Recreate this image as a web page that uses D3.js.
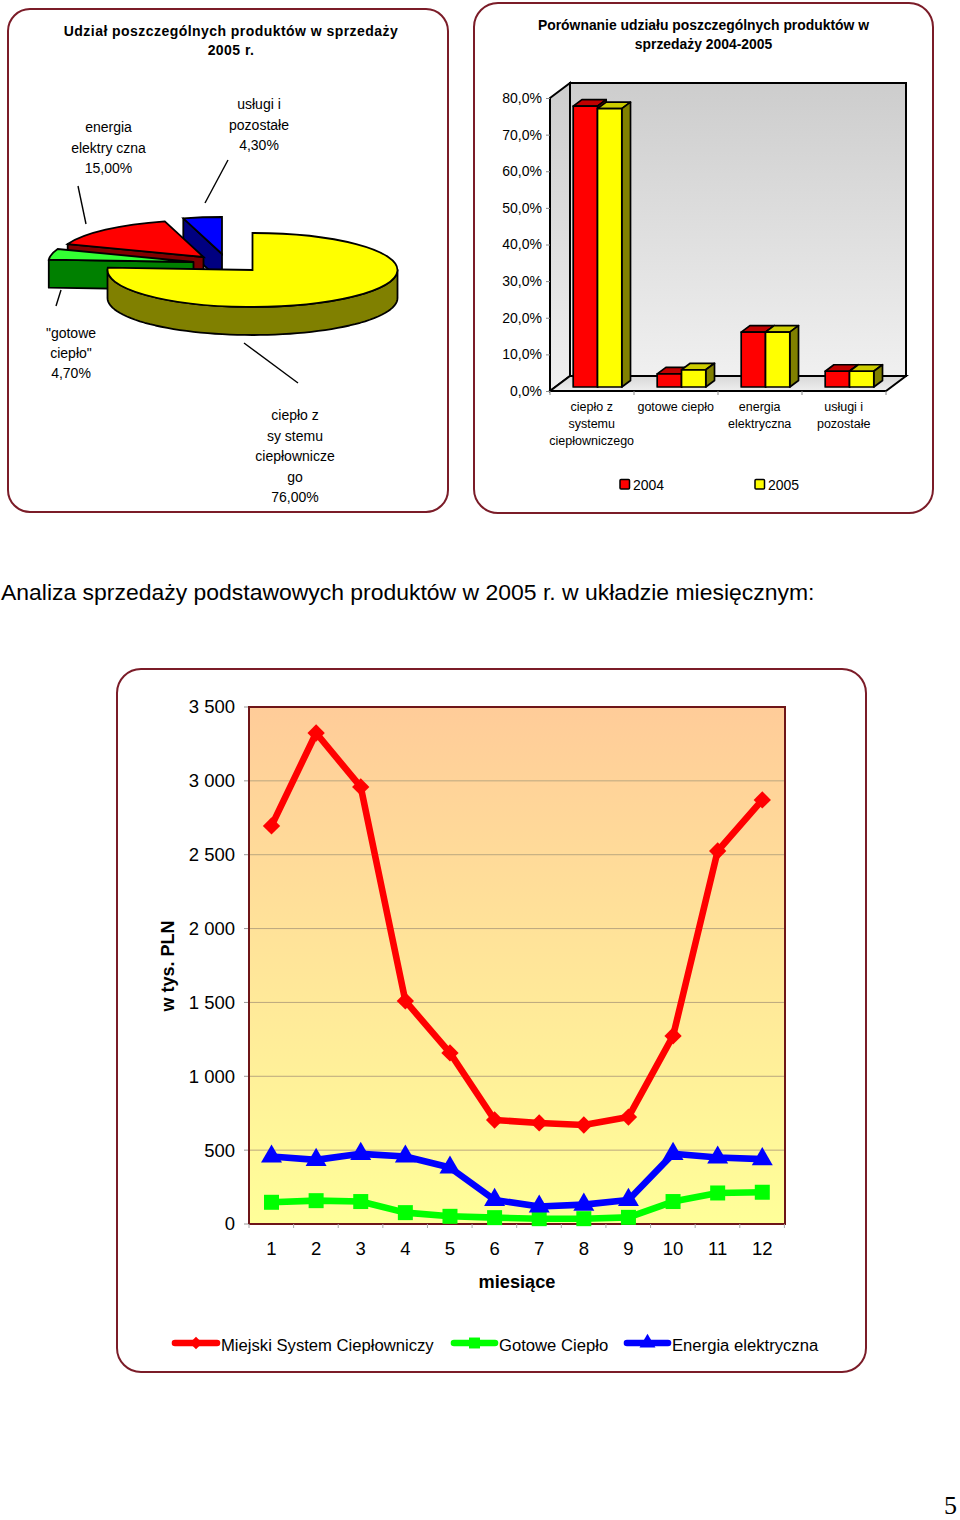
<!DOCTYPE html>
<html><head><meta charset="utf-8">
<script src="https://cdn.jsdelivr.net/npm/d3@7"></script>
<style>html,body{margin:0;padding:0;background:#fff}svg{display:block}text{font-family:"Liberation Sans",Arial,sans-serif;fill:#000}</style>
</head><body><svg id="c" width="960" height="1520"></svg>
<script>
const pieNames=["ciepło z systemu","gotowe ciepło","energia","usługi"];
const pieValues=[76,4.7,15,4.3];
const barCategories=[["ciepło z","systemu","ciepłowniczego"],["gotowe ciepło"],["energia","elektryczna"],["usługi i","pozostałe"]];
const barYears=["2004","2005"];
const bars2004=[76.7,3.6,15,4.3];
const bars2005=[76,4.7,15,4.3];
const barTicks=[0,10,20,30,40,50,60,70,80];
const months=[1,2,3,4,5,6,7,8,9,10,11,12];
const heatSeries=[2695,3324,2959,1510,1158,704,684,670,724,1273,2525,2871];
const readySeries=[147,158,152,77,52,43,36,36,45,152,210,215];
const powerSeries=[457,434,475,457,382,163,118,131,163,475,450,439];
const lineTicks=[0,500,1000,1500,2000,2500,3000,3500];
const lineNames=["Miejski System Ciepłowniczy","Gotowe Ciepło","Energia elektryczna"];

const svg=d3.select("#c");
const defs=svg.append("defs");
function grad(id,stops){const g=defs.append("linearGradient").attr("id",id).attr("x1",0).attr("y1",0).attr("x2",0).attr("y2",1);
 stops.forEach((c,i)=>g.append("stop").attr("offset",i/(stops.length-1)).attr("stop-color",c));}
grad("wall",["#cdcdcd","#f0f0f0"]);grad("floor",["#d8d8d8","#eeeeee"]);grad("plot",["#ffcc99","#ffff99"]);
const panelColor="#7b1c28";
function panel(x,y,w,h,r){svg.append("rect").attr("x",x).attr("y",y).attr("width",w).attr("height",h).attr("rx",r)
 .attr("fill","#fff").attr("stroke",panelColor).attr("stroke-width",2);}
function lines(arr,x,ys,size,opt={}){arr.forEach((t,i)=>{svg.append("text").attr("x",x).attr("y",ys[i]).attr("text-anchor",opt.anchor||"middle")
 .attr("font-size",size).attr("font-weight",opt.bold?"bold":"normal").attr("letter-spacing",opt.ls||0).text(t);});}

panel(8,9,440,503,22);panel(474,3,459,510,24);panel(117,669,749,703,24);

// ---------- pie ----------
lines(["Udział poszczególnych produktów w sprzedaży","2005 r."],231,[36,55],14,{bold:true,ls:0.45});
const rx=145,ry=37,depth=28;
const slices=d3.pie().sort(null).value(d=>d)(pieValues);
const sliceStyle=[
 {cx:252.5,cy:270,top:"#ffff00",side:"#808000"},
 {cx:193.5,cy:262,top:"#33ff33",side:"#008000"},
 {cx:203.5,cy:257,top:"#ff0000",side:"#800000"},
 {cx:222,cy:254,top:"#0000ff",side:"#000080"}];
const arc=d3.arc().innerRadius(0).outerRadius(rx);
const pt=(s,a,d=0)=>[s.cx+rx*Math.sin(a),s.cy-ry*Math.cos(a)+d];
const poly=d3.line();
function drawSlice(i){
 const sl=slices[i],s=sliceStyle[i];
 const g=svg.append("g");
 const style=p=>p.attr("fill",s.side).attr("stroke","#000").attr("stroke-width",1.8).attr("stroke-linejoin","round");
 if(i===0){
  const as=d3.range(Math.PI/2,3*Math.PI/2+0.001,Math.PI/60);
  const pts=as.map(a=>pt(s,a)).concat(as.slice().reverse().map(a=>pt(s,a,depth)));
  style(g.append("path").attr("d",poly(pts)+"Z"));
 } else {
  const a=sl.startAngle;
  const pts=[pt(s,a),[s.cx,s.cy],[s.cx,s.cy+depth],pt(s,a,depth)];
  style(g.append("path").attr("d",poly(pts)+"Z"));
 }
 g.append("path").attr("d",arc(sl)).attr("transform",`translate(${s.cx},${s.cy}) scale(1,${ry/rx})`)
  .attr("vector-effect","non-scaling-stroke").attr("fill",s.top).attr("stroke","#000").attr("stroke-width",1.8).attr("stroke-linejoin","miter");
}
[3,2,1,0].forEach(drawSlice);
[[78,186,86,224],[228,160,205,203],[61,290,56,306],[244,343,298,383]].forEach(l=>
 svg.append("line").attr("x1",l[0]).attr("y1",l[1]).attr("x2",l[2]).attr("y2",l[3]).attr("stroke","#000").attr("stroke-width",1.4));
const fmtPct=v=>d3.format(".2f")(v).replace(".",",")+"%";
lines(["energia","elektry czna",fmtPct(pieValues[2])],108.5,[132,153,173],14);
lines(["usługi i","pozostałe",fmtPct(pieValues[3])],259,[109,129.5,150],14);
lines(['"gotowe','ciepło"',fmtPct(pieValues[1])],71,[338,358,378],14);
lines(["ciepło z","sy stemu","ciepłownicze","go",fmtPct(pieValues[0])],295,[420,441,461,482,502],14);

// ---------- 3D bars ----------
lines(["Porównanie udziału poszczególnych produktów w","sprzedaży 2004-2005"],703.5,[30,49],13.9,{bold:true});
const bx0=550,bx1=886,by0=391,by1=98,wdx=20,wdy=-15;
const y3=d3.scaleLinear().domain([0,80]).range([by0,by1]);
const x3=d3.scaleBand().domain(d3.range(4)).range([bx0,bx1]);
const x3in=d3.scaleBand().domain(barYears).range([17.7,66.3]);
const wallStyle=(sel,f)=>sel.attr("fill",f).attr("stroke","#000").attr("stroke-width",2).attr("stroke-linejoin","miter");
wallStyle(svg.append("path").attr("d",poly([[bx0,by1],[bx0+wdx,by1+wdy],[bx0+wdx,by0+wdy],[bx0,by0]])+"Z"),"url(#wall)");
wallStyle(svg.append("path").attr("d",poly([[bx0+wdx,by1+wdy],[bx1+wdx,by1+wdy],[bx1+wdx,by0+wdy],[bx0+wdx,by0+wdy]])+"Z"),"url(#wall)");
wallStyle(svg.append("path").attr("d",poly([[bx0,by0],[bx1,by0],[bx1+wdx,by0+wdy],[bx0+wdx,by0+wdy]])+"Z"),"url(#floor)");
const yAxis3=d3.axisLeft(y3).tickValues(barTicks).tickSize(4).tickFormat(v=>d3.format(".1f")(v).replace(".",",")+"%");
const ya=svg.append("g").attr("transform",`translate(${bx0},0)`).call(yAxis3);
ya.select(".domain").remove();ya.selectAll("line").attr("stroke","#888");
ya.selectAll("text").attr("font-size",14).attr("x",-8).style("font-family",'"Liberation Sans"');
svg.append("g").selectAll("line").data(d3.range(5)).join("line")
 .attr("x1",i=>bx0+i*x3.bandwidth()).attr("x2",i=>bx0+i*x3.bandwidth()).attr("y1",by0).attr("y2",by0+4).attr("stroke","#888");
const bdx=8.7,bdy=-6.5,ox=5.5,oy=-4;
const barColors={"2004":{f:"#ff0000",t:"#c00000",s:"#800000"},"2005":{f:"#ffff00",t:"#cccc00",s:"#808000"}};
function bar3(i,year,v){
 const c=barColors[year],x=x3(i)+x3in(year)+ox,w=x3in.bandwidth(),yT=y3(v)+oy,yB=by0+oy;
 const g=svg.append("g").attr("stroke","#000").attr("stroke-width",1.7).attr("stroke-linejoin","round");
 g.append("path").attr("fill",c.t).attr("d",poly([[x,yT],[x+bdx,yT+bdy],[x+w+bdx,yT+bdy],[x+w,yT]])+"Z");
 g.append("path").attr("fill",c.s).attr("d",poly([[x+w,yT],[x+w+bdx,yT+bdy],[x+w+bdx,yB+bdy],[x+w,yB]])+"Z");
 g.append("rect").attr("x",x).attr("y",yT).attr("width",w).attr("height",yB-yT).attr("fill",c.f);
}
d3.range(4).forEach(i=>{bar3(i,"2004",bars2004[i]);bar3(i,"2005",bars2005[i]);});
barCategories.forEach((ls,i)=>lines(ls,x3(i)+x3.bandwidth()/2-0.3,[411,428,445],12.5));
barYears.forEach((yr,i)=>{const x=[620,755][i];
 svg.append("rect").attr("x",x).attr("y",479.5).attr("width",9.5).attr("height",9.5).attr("rx",1).attr("fill",barColors[yr].f).attr("stroke","#000").attr("stroke-width",1.5);
 lines([yr],x+13,[490],14,{anchor:"start"});});

// ---------- heading ----------
lines(["Analiza sprzedaży podstawowych produktów w 2005 r. w układzie miesięcznym:"],1,[600],22.95,{anchor:"start"});
svg.append("text").attr("x",944).attr("y",1514).attr("font-size",26).style("font-family",'"Liberation Serif",serif').text("5");

// ---------- lines ----------
const px0=249,px1=785,py0=1224,py1=707;
const xL=d3.scaleBand().domain(months).range([249.2,784.6]);
const yL=d3.scaleLinear().domain([0,3500]).range([py0,py1]);
svg.append("rect").attr("x",px0).attr("y",py1).attr("width",px1-px0).attr("height",py0-py1).attr("fill","url(#plot)");
svg.append("g").selectAll("line").data(lineTicks.slice(1,-1)).join("line").attr("x1",px0).attr("x2",px1)
 .attr("y1",d=>yL(d)).attr("y2",d=>yL(d)).attr("stroke","#bba77f").attr("stroke-width",1);
svg.append("g").selectAll("line").data(lineTicks).join("line").attr("x1",px0-5).attr("x2",px0)
 .attr("y1",d=>yL(d)).attr("y2",d=>yL(d)).attr("stroke","#999").attr("stroke-width",1);
svg.append("path").attr("d",poly([[px0,py0],[px0,py1],[px1,py1],[px1,py0],[px0,py0]])).attr("fill","none").attr("stroke","#6e1518").attr("stroke-width",2);
const yAxL=svg.append("g").attr("transform",`translate(${px0},0)`).call(d3.axisLeft(yL).tickValues(lineTicks).tickSize(0).tickFormat(v=>d3.format(",")(v).replace(",", " ")));
yAxL.select(".domain").remove();yAxL.selectAll("text").attr("font-size",18.5).attr("x",-14).style("font-family",'"Liberation Sans"');
svg.append("g").selectAll("line").data(d3.range(13)).join("line").attr("x1",i=>px0+i*xL.bandwidth()).attr("x2",i=>px0+i*xL.bandwidth())
 .attr("y1",py0).attr("y2",py0+4).attr("stroke","#aaa");
const xAxL=svg.append("g").attr("transform",`translate(0,${py0})`).call(d3.axisBottom(xL).tickSize(0));
xAxL.select(".domain").remove();xAxL.selectAll("text").attr("font-size",18.5).attr("y",18).style("font-family",'"Liberation Sans"');
lines(["miesiące"],517,[1288],18.2,{bold:true});
svg.append("text").attr("transform","translate(174,966) rotate(-90)").attr("text-anchor","middle").attr("font-size",18).attr("font-weight","bold").text("w tys. PLN");
const lineGen=d3.line().x((d,i)=>xL(months[i])+xL.bandwidth()/2).y(d=>yL(d));
const squareDiamond={draw(ctx,size){const r=Math.sqrt(size/2);ctx.moveTo(0,-r);ctx.lineTo(r,0);ctx.lineTo(0,r);ctx.lineTo(-r,0);ctx.closePath();}};
const series=[{v:heatSeries,c:"#ff0000",s:squareDiamond,z:150,lz:80},{v:readySeries,c:"#00ff00",s:d3.symbolSquare,z:225,lz:120},{v:powerSeries,c:"#0000ff",s:d3.symbolTriangle,z:190,lz:110}];
series.forEach(s=>{
 svg.append("path").attr("d",lineGen(s.v)).attr("fill","none").attr("stroke",s.c).attr("stroke-width",6.6).attr("stroke-linejoin","round");
 svg.append("g").selectAll("path").data(s.v).join("path").attr("d",d3.symbol(s.s,s.z)).attr("fill",s.c)
  .attr("transform",(d,i)=>`translate(${xL(months[i])+xL.bandwidth()/2},${yL(d)})`);
});
[[175,217,221],[454,495,499],[627,668,672]].forEach((p,i)=>{
 svg.append("line").attr("x1",p[0]).attr("x2",p[1]).attr("y1",1343).attr("y2",1343).attr("stroke",series[i].c).attr("stroke-width",6.6).attr("stroke-linecap","round");
 svg.append("path").attr("d",d3.symbol(series[i].s,series[i].lz)).attr("fill",series[i].c).attr("transform",`translate(${(p[0]+p[1])/2},1343)`);
 lines([lineNames[i]],p[2],[1351],16.65,{anchor:"start"});
});
</script></body></html>
